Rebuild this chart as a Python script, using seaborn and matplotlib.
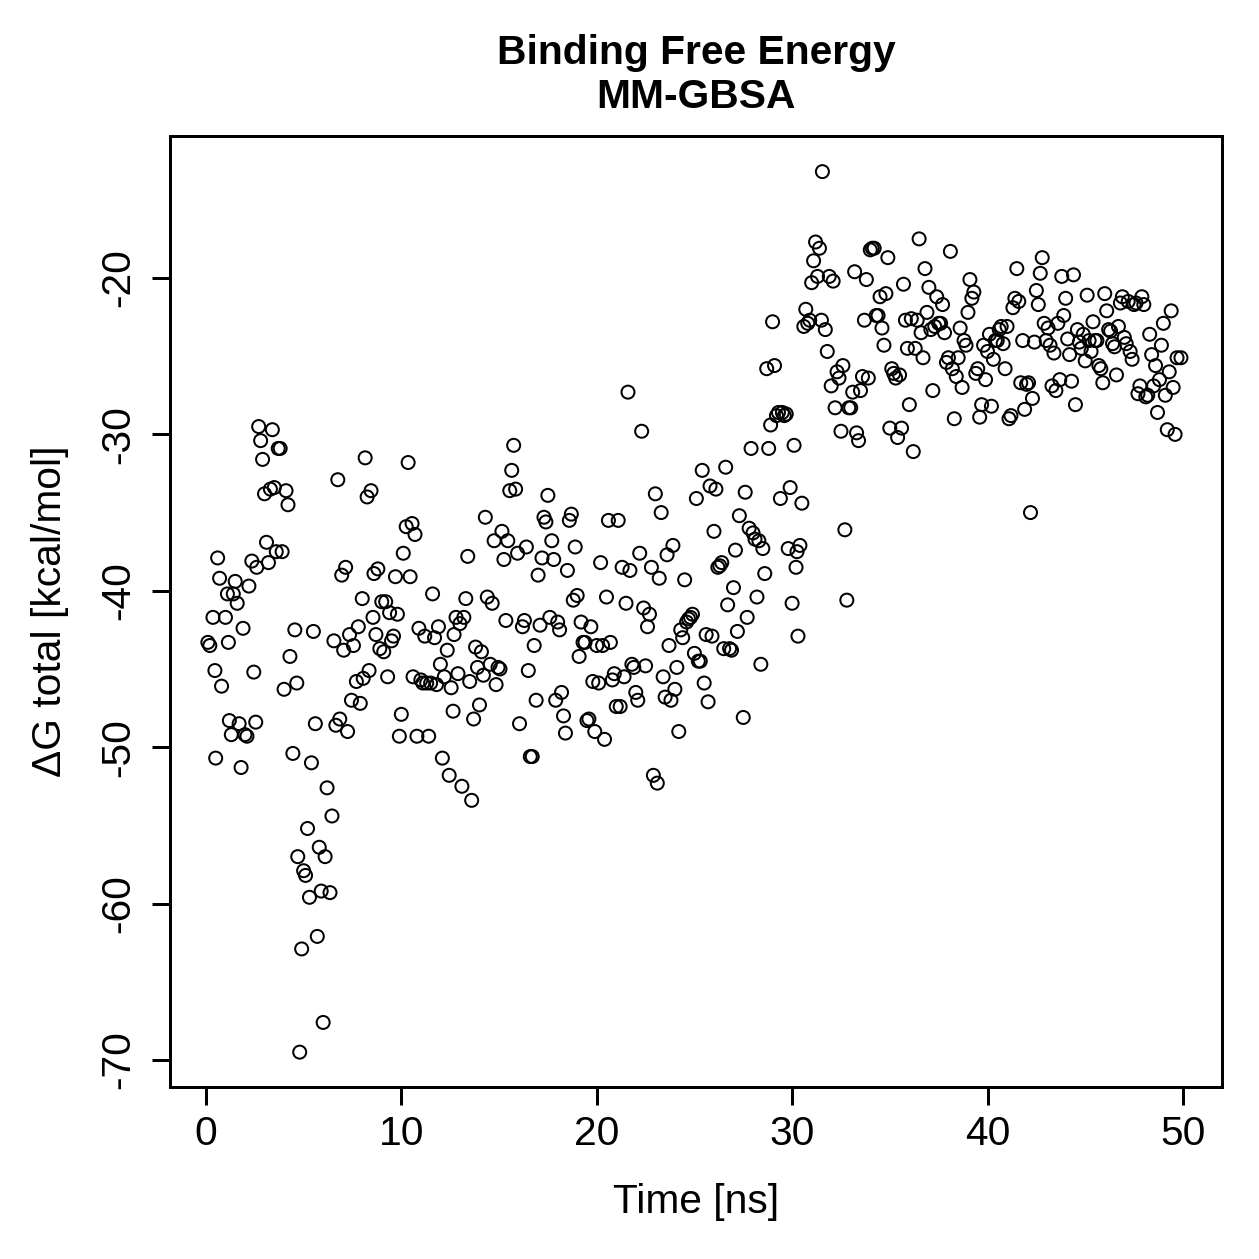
import numpy as np
import pandas as pd
import matplotlib
matplotlib.use('Agg')
import matplotlib.pyplot as plt
import seaborn as sns

# Time [ns] and ΔG total [kcal/mol]
time_ns = [
    0.1, 0.2, 0.36, 0.46, 0.5, 0.6, 0.7, 0.8, 1.0, 1.1, 1.15, 1.2, 1.3, 1.4, 1.5, 1.6, 1.7, 1.8, 1.9, 2.0,
    2.1, 2.2, 2.35, 2.45, 2.55, 2.6, 2.7, 2.8, 2.9, 3.0, 3.1, 3.2, 3.3, 3.4, 3.5, 3.6, 3.7, 3.8, 3.9, 4.0,
    4.1, 4.2, 4.3, 4.45, 4.55, 4.65, 4.7, 4.8, 4.9, 5.0, 5.1, 5.2, 5.3, 5.4, 5.5, 5.6, 5.7, 5.8, 5.9, 6.0,
    6.1, 6.2, 6.35, 6.45, 6.55, 6.65, 6.75, 6.85, 6.95, 7.05, 7.15, 7.25, 7.35, 7.45, 7.55, 7.7, 7.8, 7.9, 8.0, 8.05,
    8.15, 8.25, 8.35, 8.45, 8.55, 8.6, 8.7, 8.8, 8.9, 9.0, 9.1, 9.2, 9.3, 9.4, 9.5, 9.6, 9.7, 9.8, 9.9, 10.0,
    10.1, 10.25, 10.35, 10.45, 10.55, 10.6, 10.7, 10.8, 10.9, 11.0, 11.1, 11.2, 11.3, 11.4, 11.5, 11.6, 11.7, 11.8, 11.9, 12.0,
    12.1, 12.2, 12.35, 12.45, 12.55, 12.65, 12.7, 12.8, 12.9, 13.0, 13.1, 13.2, 13.3, 13.4, 13.5, 13.6, 13.7, 13.8, 13.9, 14.0,
    14.1, 14.2, 14.3, 14.4, 14.55, 14.65, 14.75, 14.85, 14.95, 15.05, 15.15, 15.25, 15.35, 15.45, 15.55, 15.65, 15.75, 15.85, 15.95, 16.05,
    16.2, 16.3, 16.4, 16.5, 16.6, 16.7, 16.8, 16.9, 17.0, 17.1, 17.2, 17.3, 17.4, 17.5, 17.6, 17.7, 17.8, 17.9, 18.0, 18.1,
    18.2, 18.3, 18.4, 18.5, 18.6, 18.7, 18.8, 18.9, 19.0, 19.1, 19.2, 19.3, 19.4, 19.5, 19.6, 19.7, 19.8, 19.9, 20.0, 20.1,
    20.2, 20.3, 20.4, 20.5, 20.6, 20.7, 20.8, 20.9, 21.0, 21.1, 21.2, 21.3, 21.4, 21.5, 21.6, 21.7, 21.8, 21.9, 22.0, 22.1,
    22.2, 22.3, 22.4, 22.5, 22.6, 22.7, 22.8, 22.9, 23.0, 23.1, 23.2, 23.3, 23.4, 23.5, 23.6, 23.7, 23.8, 23.9, 24.0, 24.1,
    24.2, 24.3, 24.4, 24.5, 24.6, 24.7, 24.8, 24.9, 25.0, 25.1, 25.2, 25.3, 25.4, 25.5, 25.6, 25.7, 25.8, 25.9, 26.0, 26.1,
    26.2, 26.3, 26.4, 26.5, 26.6, 26.7, 26.8, 26.9, 27.0, 27.1, 27.2, 27.3, 27.5, 27.6, 27.7, 27.8, 27.9, 28.0, 28.1, 28.2,
    28.3, 28.4, 28.5, 28.6, 28.7, 28.8, 28.9, 29.0, 29.1, 29.2, 29.3, 29.4, 29.5, 29.6, 29.7, 29.8, 29.9, 30.0, 30.1, 30.2,
    30.25, 30.3, 30.4, 30.5, 30.6, 30.7, 30.8, 30.9, 31.0, 31.1, 31.2, 31.3, 31.4, 31.5, 31.55, 31.7, 31.8, 31.9, 32.0, 32.1,
    32.2, 32.3, 32.4, 32.5, 32.6, 32.7, 32.8, 32.9, 33.0, 33.1, 33.2, 33.3, 33.4, 33.5, 33.6, 33.7, 33.8, 33.9, 34.0, 34.1,
    34.2, 34.3, 34.4, 34.5, 34.6, 34.7, 34.8, 34.9, 35.0, 35.1, 35.2, 35.3, 35.4, 35.5, 35.6, 35.7, 35.8, 35.9, 36.0, 36.1,
    36.2, 36.3, 36.4, 36.5, 36.6, 36.7, 36.8, 36.9, 37.0, 37.1, 37.2, 37.3, 37.4, 37.5, 37.6, 37.7, 37.8, 37.9, 38.0, 38.1,
    38.2, 38.3, 38.4, 38.5, 38.6, 38.7, 38.8, 38.9, 39.0, 39.1, 39.2, 39.3, 39.4, 39.5, 39.6, 39.7, 39.8, 39.9, 40.0, 40.1,
    40.2, 40.3, 40.4, 40.5, 40.6, 40.7, 40.8, 40.9, 41.0, 41.1, 41.2, 41.3, 41.4, 41.5, 41.6, 41.7, 41.8, 41.9, 42.0, 42.1,
    42.2, 42.3, 42.4, 42.5, 42.6, 42.7, 42.8, 42.9, 43.0, 43.1, 43.2, 43.3, 43.4, 43.5, 43.6, 43.7, 43.8, 43.9, 44.0, 44.1,
    44.2, 44.3, 44.4, 44.5, 44.6, 44.7, 44.8, 44.9, 45.0, 45.1, 45.2, 45.3, 45.4, 45.5, 45.6, 45.7, 45.8, 45.9, 46.0, 46.1,
    46.2, 46.3, 46.4, 46.5, 46.6, 46.7, 46.8, 46.9, 47.0, 47.1, 47.2, 47.3, 47.4, 47.5, 47.6, 47.7, 47.8, 47.9, 48.0, 48.1,
    48.2, 48.3, 48.4, 48.5, 48.6, 48.7, 48.8, 48.9, 49.0, 49.1, 49.2, 49.3, 49.4, 49.5, 49.6, 49.7, 49.9,
]

dg_total = [
    -43.3, -43.5, -41.7, -45.1, -50.7, -37.9, -39.2, -46.1, -41.7, -40.2, -43.3, -48.3, -49.2, -40.2, -39.4, -40.8, -48.5, -51.3, -42.4, -49.2,
    -49.3, -39.7, -38.1, -45.2, -48.4, -38.5, -29.5, -30.4, -31.6, -33.8, -36.9, -38.2, -33.5, -29.7, -33.4, -37.5, -30.9, -30.9, -37.5, -46.3,
    -33.6, -34.5, -44.2, -50.4, -42.5, -45.9, -57.0, -69.5, -62.9, -57.9, -58.2, -55.2, -59.6, -51.0, -42.6, -48.5, -62.1, -56.4, -59.2, -67.6,
    -57.0, -52.6, -59.3, -54.4, -43.2, -48.6, -32.9, -48.2, -39.0, -43.8, -38.5, -49.0, -42.8, -47.0, -43.5, -45.8, -42.3, -47.2, -40.5, -45.6,
    -31.5, -34.0, -45.1, -33.6, -41.7, -38.9, -42.8, -38.6, -43.7, -40.7, -43.9, -40.7, -45.5, -41.4, -43.2, -42.9, -39.1, -41.5, -49.3, -47.9,
    -37.6, -35.9, -31.8, -39.1, -35.7, -45.5, -36.4, -49.3, -42.4, -45.7, -45.9, -42.9, -45.9, -49.3, -45.9, -40.2, -43.0, -46.0, -42.3, -44.7,
    -50.7, -45.5, -43.8, -51.8, -46.2, -47.7, -42.8, -41.7, -45.3, -42.1, -52.5, -41.7, -40.5, -37.8, -45.8, -53.4, -48.2, -43.6, -44.9, -47.3,
    -43.9, -45.4, -35.3, -40.4, -44.7, -40.8, -36.8, -46.0, -44.9, -45.0, -36.2, -38.0, -41.9, -36.8, -33.6, -32.3, -30.7, -33.5, -37.6, -48.5,
    -42.3, -41.9, -37.2, -45.1, -50.6, -50.6, -43.5, -47.0, -39.0, -42.2, -37.9, -35.3, -35.6, -33.9, -41.7, -36.8, -38.0, -47.0, -42.0, -42.5,
    -46.5, -48.0, -49.1, -38.7, -35.5, -35.1, -40.6, -37.2, -40.3, -44.2, -42.0, -43.3, -43.3, -48.3, -48.2, -42.3, -45.8, -49.0, -43.5, -45.9,
    -38.2, -43.5, -49.5, -40.4, -35.5, -43.3, -45.7, -45.3, -47.4, -35.5, -47.4, -38.5, -45.5, -40.8, -27.3, -38.7, -44.7, -44.9, -46.5, -47.0,
    -37.6, -29.8, -41.1, -44.8, -42.3, -41.5, -38.5, -51.8, -33.8, -52.3, -39.2, -35.0, -45.5, -46.8, -37.7, -43.5, -47.0, -37.1, -46.3, -44.9,
    -49.0, -42.5, -43.0, -39.3, -42.0, -41.8, -41.7, -41.5, -44.0, -34.1, -44.5, -44.5, -32.3, -45.9, -42.8, -47.1, -33.3, -42.9, -36.2, -33.5,
    -38.5, -38.4, -38.2, -43.7, -32.1, -40.9, -43.7, -43.8, -39.8, -37.4, -42.6, -35.2, -48.1, -33.7, -41.7, -36.0, -30.9, -36.3, -36.7, -40.4,
    -36.8, -44.7, -37.3, -38.9, -25.8, -30.9, -29.4, -22.8, -25.6, -28.8, -28.6, -34.1, -28.6, -28.8, -28.7, -37.3, -33.4, -40.8, -30.7, -38.5,
    -37.5, -42.9, -37.1, -34.4, -23.1, -22.0, -22.9, -22.7, -20.3, -18.9, -17.7, -19.9, -18.1, -22.7, -13.2, -23.3, -24.7, -19.9, -26.9, -20.2,
    -28.3, -26.0, -26.4, -29.8, -25.6, -36.1, -40.6, -28.3, -28.3, -27.3, -19.6, -29.9, -30.4, -27.2, -26.3, -22.7, -20.1, -26.4, -18.2, -18.1,
    -18.1, -22.4, -22.4, -21.2, -23.2, -24.3, -21.0, -18.7, -29.6, -25.8, -26.1, -26.4, -30.2, -26.2, -29.6, -20.4, -22.7, -24.5, -28.1, -22.6,
    -31.1, -24.5, -22.7, -17.5, -23.5, -25.1, -19.4, -22.2, -20.6, -23.3, -27.2, -23.1, -21.2, -22.9, -22.9, -21.7, -23.5, -25.4, -25.1, -18.3,
    -25.8, -29.0, -26.3, -25.1, -23.2, -27.0, -24.0, -24.3, -22.2, -20.1, -21.3, -20.9, -26.1, -25.8, -28.9, -28.1, -24.3, -26.5, -24.7, -23.6,
    -28.2, -25.2, -24.0, -24.0, -23.3, -23.1, -24.2, -25.8, -23.1, -29.0, -28.8, -21.9, -21.3, -19.4, -21.5, -26.7, -24.0, -28.4, -26.8, -26.7,
    -35.0, -27.7, -24.1, -20.8, -21.7, -19.7, -18.7, -22.9, -24.0, -23.2, -24.3, -26.9, -24.8, -27.2, -22.9, -26.5, -19.9, -22.4, -21.3, -23.9,
    -24.9, -26.6, -19.8, -28.1, -23.3, -24.1, -24.5, -23.6, -25.3, -21.1, -24.0, -24.7, -22.8, -24.0, -24.0, -25.6, -25.8, -26.7, -21.0, -22.1,
    -23.3, -23.4, -24.2, -24.4, -26.2, -23.1, -21.6, -21.2, -23.8, -24.2, -21.5, -24.7, -25.2, -21.7, -21.6, -27.4, -26.9, -21.2, -21.7, -27.6,
    -27.5, -23.6, -24.9, -26.9, -25.6, -28.6, -26.5, -24.3, -22.9, -27.5, -29.7, -26.0, -22.1, -27.0, -30.0, -25.1, -25.1,
]

df = pd.DataFrame({'time': time_ns, 'dg': dg_total})

sns.set_style('ticks')
plt.rcParams['font.family'] = ['Liberation Sans', 'DejaVu Sans']
plt.rcParams['text.color'] = 'black'
plt.rcParams['axes.labelcolor'] = 'black'
plt.rcParams['xtick.color'] = 'black'
plt.rcParams['ytick.color'] = 'black'

fig = plt.figure(figsize=(1259 / 180, 1259 / 180), dpi=180)
ax = fig.add_axes([0.135, 0.1366, 0.8356, 0.7554])

sns.scatterplot(data=df, x='time', y='dg', ax=ax, s=27, marker='o',
                facecolors='none', edgecolor='black', linewidth=0.8, legend=False)
ax.collections[0].set_facecolor('none')

ax.set_xlim(-1.84, 52.0)
ax.set_ylim(-71.73, -10.92)
ax.set_xticks([0, 10, 20, 30, 40, 50])
ax.set_yticks([-70, -60, -50, -40, -30, -20])
ax.set_yticklabels(['-70', '-60', '-50', '-40', '-30', '-20'], rotation=90, va='center')
ax.tick_params(axis='both', labelsize=16.3, length=7.2, width=1.2, direction='out')
ax.tick_params(axis='x', pad=4)
ax.tick_params(axis='y', pad=6)

for sp in ax.spines.values():
    sp.set_linewidth(1.2)
    sp.set_color('black')

ax.set_xlabel('Time [ns]', fontsize=16.3, labelpad=12)
ax.set_ylabel('ΔG total [kcal/mol]', fontsize=16.3, labelpad=12)
ax.set_title('Binding Free Energy\nMM-GBSA', fontsize=16.3, fontweight='bold', pad=11, linespacing=1.2)

fig.savefig('out.png', dpi=180)
